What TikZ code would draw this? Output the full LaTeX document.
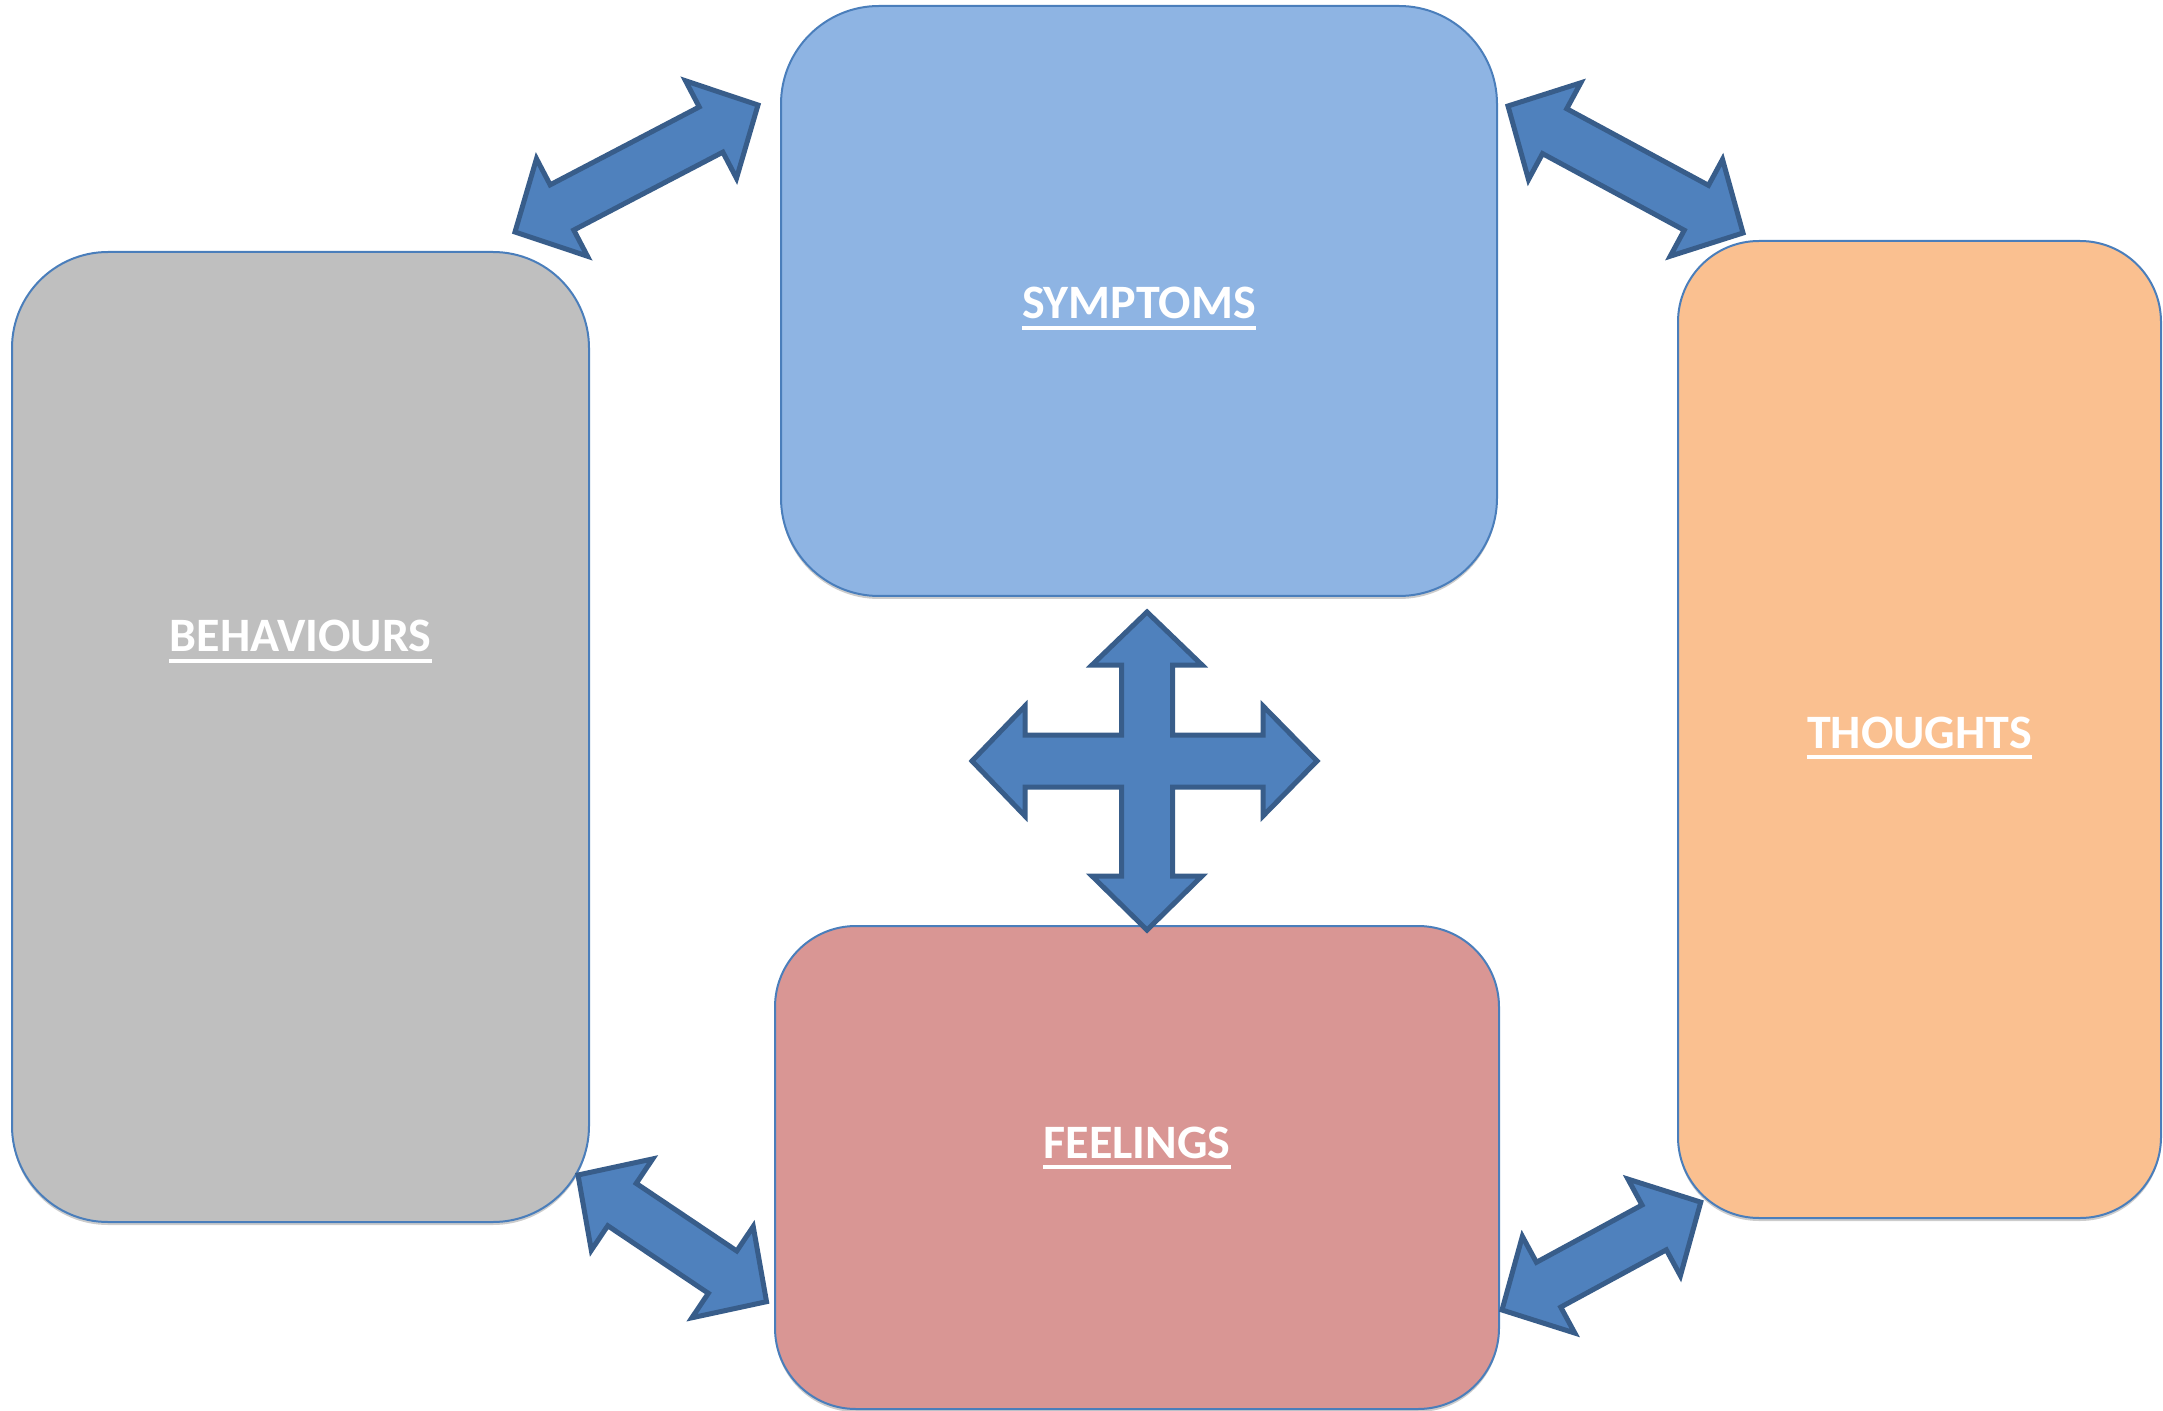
\documentclass[tikz,border=0pt]{standalone}
\usepackage{fontspec}
\setmainfont{Carlito}
\usetikzlibrary{calc,shadows}
\definecolor{symfill}{HTML}{8EB4E3}
\definecolor{behfill}{HTML}{BFBFBF}
\definecolor{thofill}{HTML}{FAC090}
\definecolor{feefill}{HTML}{D99694}
\definecolor{boxline}{HTML}{4A7EBB}
\definecolor{arrfill}{HTML}{4F81BD}
\definecolor{arrline}{HTML}{385D8A}
\newcommand{\dblarrow}[2]{%
  \draw[blockarrow] let \p1=(#1), \p2=(#2),
      \n1={atan2(\y2-\y1,\x2-\x1)}, \n2={veclen(\x2-\x1,\y2-\y1)} in
    [shift={(\p1)}, rotate=\n1]
    (0pt,0pt) -- (26.5pt,27.5pt) -- (26.5pt,12.75pt) -- (\n2*1pt-26.5pt,12.75pt)
    -- (\n2*1pt-26.5pt,27.5pt) -- (\n2*1pt,0pt) -- (\n2*1pt-26.5pt,-27.5pt)
    -- (\n2*1pt-26.5pt,-12.75pt) -- (26.5pt,-12.75pt) -- (26.5pt,-27.5pt) -- cycle;}
\begin{document}
\begin{tikzpicture}[x=0.5pt,y=-0.5pt,
    box/.style={draw=boxline,line width=1pt,
      drop shadow={shadow xshift=0pt,shadow yshift=-1.5pt,opacity=0.2,fill=black}},
    lbl/.style={text=white,inner sep=0pt,anchor=base,
      font=\bfseries\fontsize{24}{28}\selectfont},
    uline/.style={draw=white,line width=1.7pt},
    blockarrow/.style={draw=arrline,fill=arrfill,line width=2.5pt}]
  \useasboundingbox (0,0) rectangle (2163,1411);
  \node[box,fill=symfill,minimum width=358pt,minimum height=295pt,rounded corners=49pt] (symptoms) at (1139,301) {};
  \node[box,fill=behfill,minimum width=288.5pt,minimum height=485pt,rounded corners=48pt] (behaviours) at (300.5,737) {};
  \node[box,fill=thofill,minimum width=241.5pt,minimum height=488.5pt,rounded corners=40.5pt] (thoughts) at (1919.5,729.5) {};
  \node[box,fill=feefill,minimum width=362pt,minimum height=241.5pt,rounded corners=40.5pt] (feelings) at (1137,1167.5) {};
  \node[lbl] (symlbl) at ([yshift=-9pt]symptoms.center) {SYMPTOMS};
  \node[lbl] (behlbl) at ([yshift=42.5pt]behaviours.center) {BEHAVIOURS};
  \node[lbl] (tholbl) at ([yshift=-9.25pt]thoughts.center) {THOUGHTS};
  \node[lbl] (feelbl) at ([yshift=4.75pt]feelings.center) {FEELINGS};
  \foreach \l in {symlbl,behlbl,tholbl,feelbl}
    \draw[uline] ([yshift=-4.5pt]\l.base west) -- ([yshift=-4.5pt]\l.base east);
  \coordinate (behtop) at (515,232);
  \coordinate (symleft) at (758,105);
  \coordinate (symright) at (1508,106);
  \coordinate (thotop) at (1743,233);
  \coordinate (behbot) at (578,1175);
  \coordinate (feeleft) at (767,1302);
  \coordinate (feeright) at (1502,1310);
  \coordinate (thobot) at (1701,1202);
  \coordinate (cross) at (1147,761);
  \dblarrow{behtop}{symleft}
  \dblarrow{symright}{thotop}
  \dblarrow{behbot}{feeleft}
  \dblarrow{feeright}{thobot}
  \draw[blockarrow,shift={(cross)}] (0,-149) -- (55,-96) -- (25.5,-96) -- (25.5,-26)
    -- (116,-26) -- (116,-55) -- (170,0) -- (116,55) -- (116,26) -- (25.5,26)
    -- (25.5,115) -- (55,115) -- (0,169) -- (-55,115) -- (-25.5,115) -- (-25.5,26)
    -- (-122,26) -- (-122,55) -- (-175,0) -- (-122,-55) -- (-122,-26) -- (-25.5,-26)
    -- (-25.5,-96) -- (-55,-96) -- cycle;
\end{tikzpicture}
\end{document}
